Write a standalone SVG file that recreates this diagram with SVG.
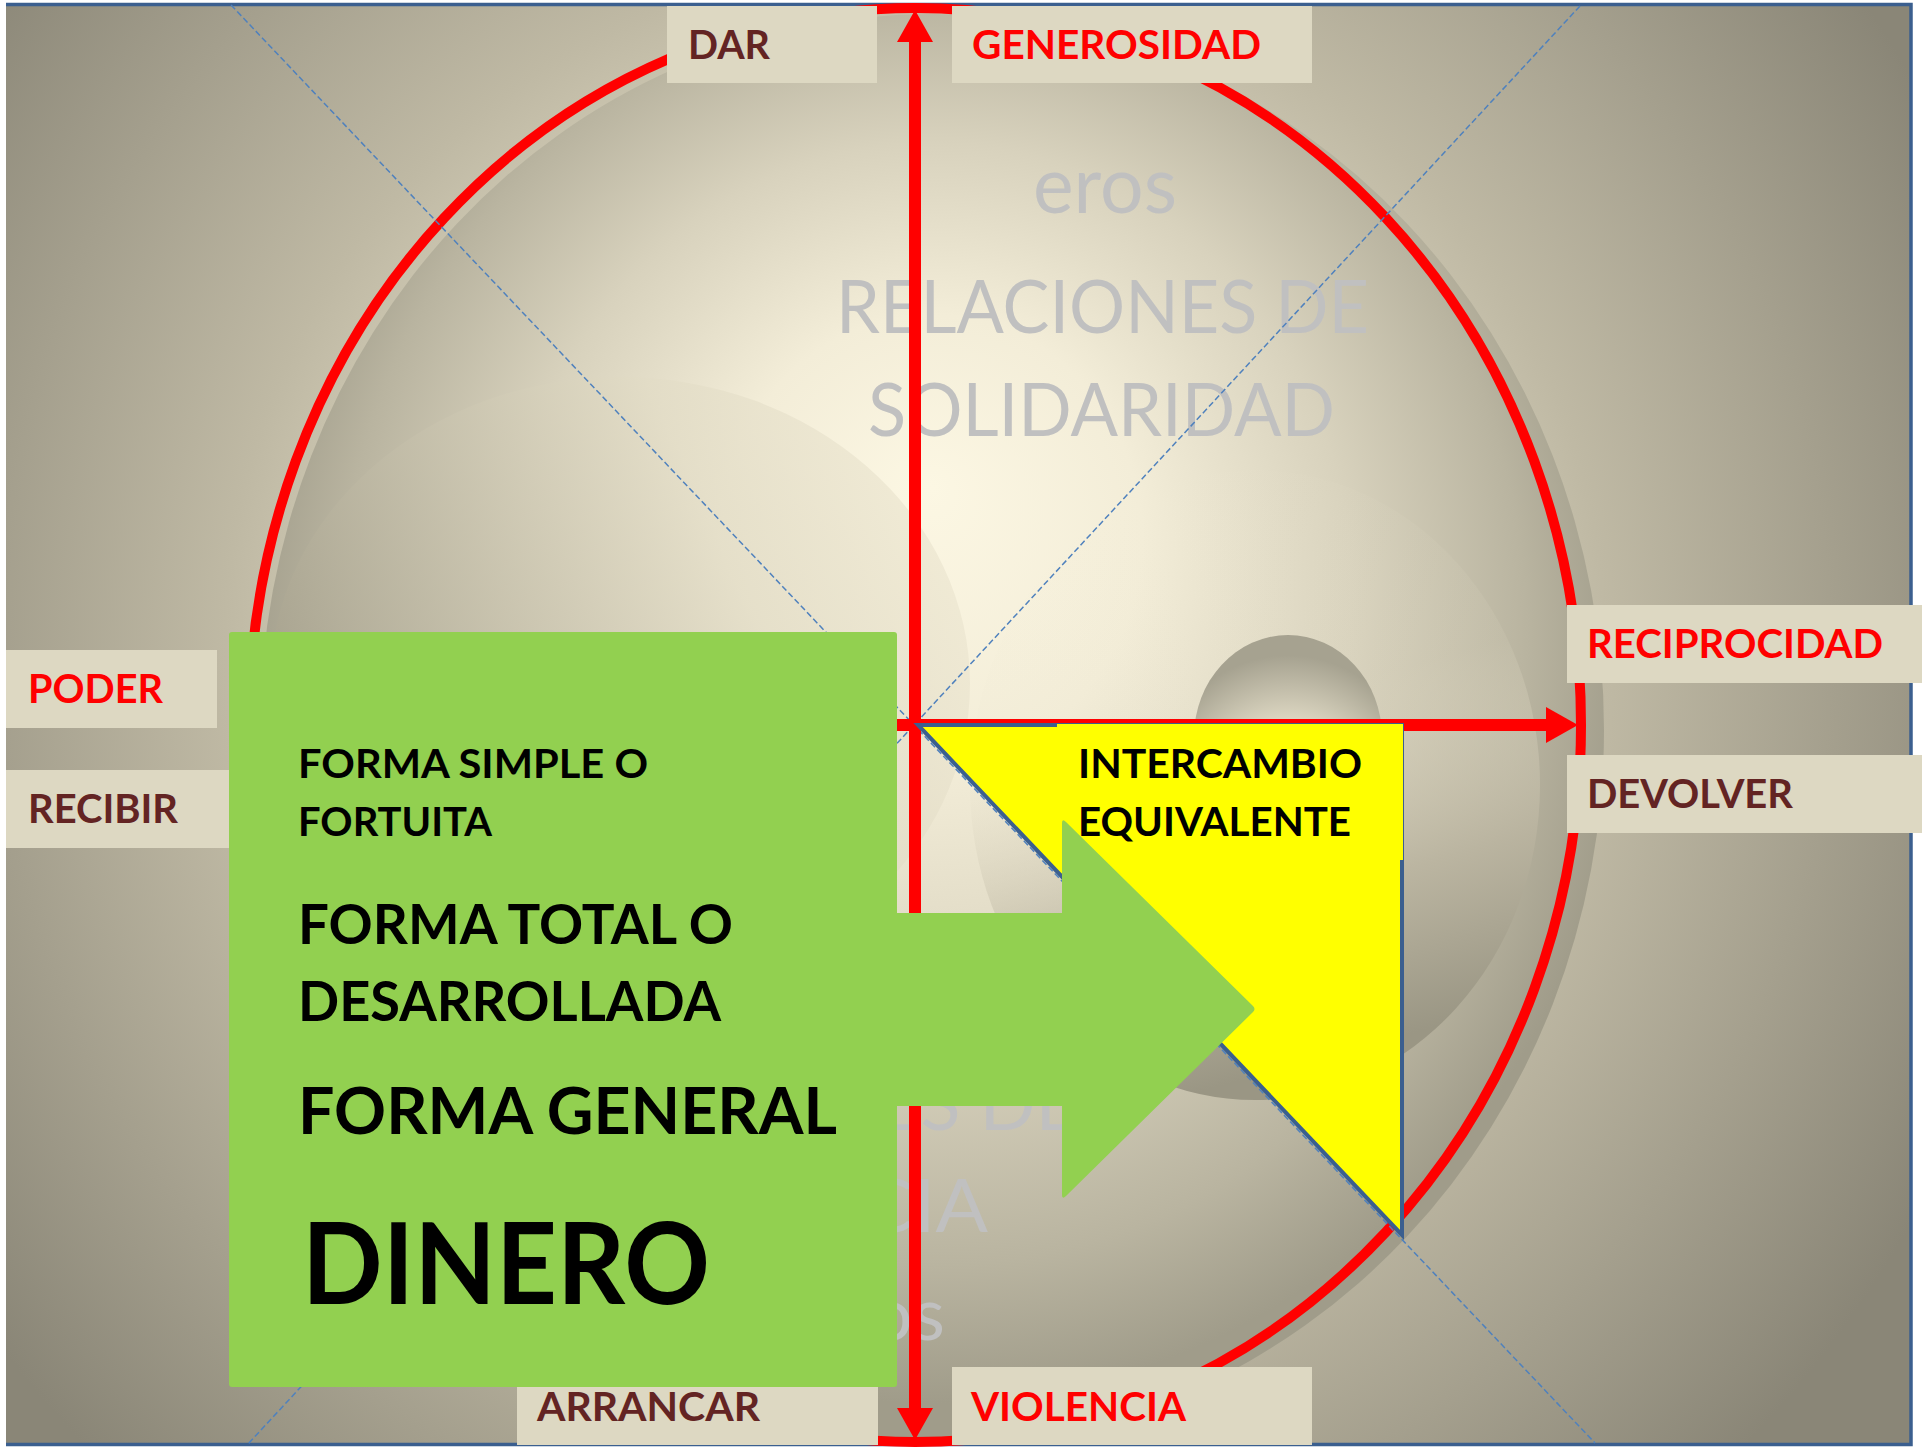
<svg xmlns="http://www.w3.org/2000/svg" width="1922" height="1447" viewBox="0 0 1922 1447">
  <defs>
    <radialGradient id="bgGrad" gradientUnits="userSpaceOnUse" cx="915" cy="650" r="1150">
      <stop offset="0" stop-color="#FBF6E2"/>
      <stop offset="0.35" stop-color="#E6E0CA"/>
      <stop offset="0.6" stop-color="#BFB9A4"/>
      <stop offset="1" stop-color="#8A8677"/>
    </radialGradient>
    <radialGradient id="sphereGrad" cx="0.5" cy="0.45" r="0.52" fx="0.5" fy="0.33">
      <stop offset="0" stop-color="#FCF7E3"/>
      <stop offset="0.3" stop-color="#F3EDD8"/>
      <stop offset="0.6" stop-color="#D8D2BD"/>
      <stop offset="0.85" stop-color="#B9B4A0"/>
      <stop offset="1" stop-color="#A09C8A"/>
    </radialGradient>
    <linearGradient id="innerGrad" x1="0" y1="0.4" x2="1" y2="0">
      <stop offset="0" stop-color="#ABA692"/>
      <stop offset="0.6" stop-color="#E2DCC6"/>
      <stop offset="1" stop-color="#F3EDD8"/>
    </linearGradient>
    <linearGradient id="brGrad" x1="0.1" y1="0" x2="0.35" y2="1">
      <stop offset="0" stop-color="#F5F0DB" stop-opacity="0"/>
      <stop offset="0.45" stop-color="#E6E0CA" stop-opacity="0.12"/>
      <stop offset="0.75" stop-color="#BAB4A0" stop-opacity="0.85"/>
      <stop offset="1" stop-color="#9A9684" stop-opacity="1"/>
    </linearGradient>
    <radialGradient id="smallGrad" cx="0.5" cy="0.85" r="0.75">
      <stop offset="0" stop-color="#F7F2DE"/>
      <stop offset="0.55" stop-color="#E0DAC5"/>
      <stop offset="1" stop-color="#A6A290"/>
    </radialGradient>
    <marker id="ah" markerUnits="userSpaceOnUse" markerWidth="32" markerHeight="36" viewBox="0 0 32 36" refX="20" refY="18" orient="auto-start-reverse">
      <path d="M0,0 L32,18 L0,36 z" fill="#FF0000"/>
    </marker>
    <style>
      .lbox { fill: #DDD8C2; }
      .lbl { font-family: Lato, "Open Sans", "Liberation Sans", sans-serif; font-weight: bold; font-size: 41px; }
      .red { fill: #FF0000; }
      .brown { fill: #632423; }
      .ghost { font-family: Lato, "Open Sans", "Liberation Sans", sans-serif; font-weight: normal; fill: #C0C0C0; }
      .blk { font-family: Lato, "Open Sans", "Liberation Sans", sans-serif; font-weight: bold; fill: #000000; }
      .guide { fill: none; stroke: #4F81BD; stroke-width: 1.5; stroke-dasharray: 6 3; }
      .redline { fill: none; stroke: #FF0000; stroke-width: 12; }
      .green { fill: #92D050; }
    </style>
  </defs>

  <rect x="0" y="0" width="1922" height="1447" fill="#FFFFFF"/>

  <g id="frame">
    <rect x="6" y="5" width="1906" height="1439" fill="url(#bgGrad)"/>
    <path d="M6,4.5 H1911 V1444.5 H6" fill="none" stroke="#3B5F8F" stroke-width="3.5"/>
  </g>

  <g id="background-shapes">
    <ellipse cx="932" cy="730" rx="672" ry="716" fill="url(#sphereGrad)"/>
    <ellipse cx="620" cy="684" rx="350" ry="307" fill="url(#innerGrad)" opacity="0.8"/>
    <ellipse cx="1255" cy="785" rx="285" ry="315" fill="url(#brGrad)"/>
    <ellipse cx="1288" cy="737" rx="94" ry="102" fill="url(#smallGrad)"/>
  </g>

  <g id="ghost-text">
    <text class="ghost" x="1033" y="213" font-size="80" textLength="144" lengthAdjust="spacingAndGlyphs">eros</text>
    <text class="ghost" x="836" y="333" font-size="74" textLength="533" lengthAdjust="spacingAndGlyphs">RELACIONES DE</text>
    <text class="ghost" x="868" y="436" font-size="74" textLength="467" lengthAdjust="spacingAndGlyphs">SOLIDARIDAD</text>
    <text class="ghost" x="878" y="1130" font-size="74" textLength="200" lengthAdjust="spacingAndGlyphs">ES DE</text>
    <text class="ghost" x="862" y="1232" font-size="74" textLength="126" lengthAdjust="spacingAndGlyphs">CIA</text>
    <text class="ghost" x="870" y="1340" font-size="74" textLength="75" lengthAdjust="spacingAndGlyphs">os</text>
  </g>

  <g id="circle">
    <ellipse cx="915" cy="725" rx="666" ry="717" fill="none" stroke="#FF0000" stroke-width="10"/>
  </g>

  <g id="connectors">
    <line class="guide" x1="231" y1="5" x2="1595" y2="1443"/>
    <line class="guide" x1="1580" y1="6" x2="248" y2="1444"/>
    <line class="redline" x1="915" y1="22" x2="915" y2="1428" marker-start="url(#ah)" marker-end="url(#ah)"/>
    <line class="redline" x1="890" y1="725" x2="1566" y2="725" marker-end="url(#ah)"/>
  </g>

  <g id="n-intercambio">
    <polygon points="918,725 1402,725 1402,1235" fill="#FFFF00" stroke="#3B5F8F" stroke-width="4" stroke-linejoin="miter"/>
    <rect x="1057" y="724" width="346" height="136" fill="#FFFF00"/>
    <text class="blk" font-size="41" x="1078" y="778" textLength="284" lengthAdjust="spacingAndGlyphs">INTERCAMBIO</text>
    <text class="blk" font-size="41" x="1078" y="836" textLength="273" lengthAdjust="spacingAndGlyphs">EQUIVALENTE</text>
  </g>

  <g id="n-green-arrow">
    <path class="green" d="M890,913 H1062 V823 Q1062,818 1066,822 L1253,1006 Q1256,1009 1253,1012 L1066,1196 Q1062,1200 1062,1195 V1106 H890 Z"/>
  </g>

  <g id="n-formas">
    <rect class="green" x="229" y="632" width="668" height="755" rx="3" ry="3"/>
    <text class="blk" font-size="40" x="298" y="778" textLength="350" lengthAdjust="spacingAndGlyphs">FORMA SIMPLE O</text>
    <text class="blk" font-size="40" x="298" y="836" textLength="194" lengthAdjust="spacingAndGlyphs">FORTUITA</text>
    <text class="blk" font-size="56" x="298" y="944" textLength="435" lengthAdjust="spacingAndGlyphs">FORMA TOTAL O</text>
    <text class="blk" font-size="56" x="298" y="1021" textLength="423" lengthAdjust="spacingAndGlyphs">DESARROLLADA</text>
    <text class="blk" font-size="65" x="298" y="1134" textLength="539" lengthAdjust="spacingAndGlyphs">FORMA GENERAL</text>
    <text class="blk" font-size="113" x="302" y="1304" textLength="408" lengthAdjust="spacingAndGlyphs">DINERO</text>
  </g>

  <g id="n-dar">
    <rect class="lbox" x="667" y="6" width="210" height="77"/>
    <text class="lbl brown" x="688" y="59" textLength="82" lengthAdjust="spacingAndGlyphs">DAR</text>
  </g>
  <g id="n-generosidad">
    <rect class="lbox" x="952" y="6" width="360" height="77"/>
    <text class="lbl red" x="972" y="59" textLength="289" lengthAdjust="spacingAndGlyphs">GENEROSIDAD</text>
  </g>
  <g id="n-poder">
    <rect class="lbox" x="6" y="650" width="211" height="78"/>
    <text class="lbl red" x="28" y="703" textLength="135" lengthAdjust="spacingAndGlyphs">PODER</text>
  </g>
  <g id="n-recibir">
    <rect class="lbox" x="6" y="770" width="223" height="78"/>
    <text class="lbl brown" x="28" y="823" textLength="150" lengthAdjust="spacingAndGlyphs">RECIBIR</text>
  </g>
  <g id="n-reciprocidad">
    <rect class="lbox" x="1567" y="605" width="355" height="78"/>
    <text class="lbl red" x="1587" y="658" textLength="296" lengthAdjust="spacingAndGlyphs">RECIPROCIDAD</text>
  </g>
  <g id="n-devolver">
    <rect class="lbox" x="1567" y="755" width="355" height="78"/>
    <text class="lbl brown" x="1587" y="808" textLength="206" lengthAdjust="spacingAndGlyphs">DEVOLVER</text>
  </g>
  <g id="n-arrancar">
    <rect class="lbox" x="517" y="1387" width="361" height="58"/>
    <text class="lbl brown" x="537" y="1421" textLength="223" lengthAdjust="spacingAndGlyphs">ARRANCAR</text>
  </g>
  <g id="n-violencia">
    <rect class="lbox" x="952" y="1367" width="360" height="78"/>
    <text class="lbl red" x="971" y="1421" textLength="215" lengthAdjust="spacingAndGlyphs">VIOLENCIA</text>
  </g>
</svg>
